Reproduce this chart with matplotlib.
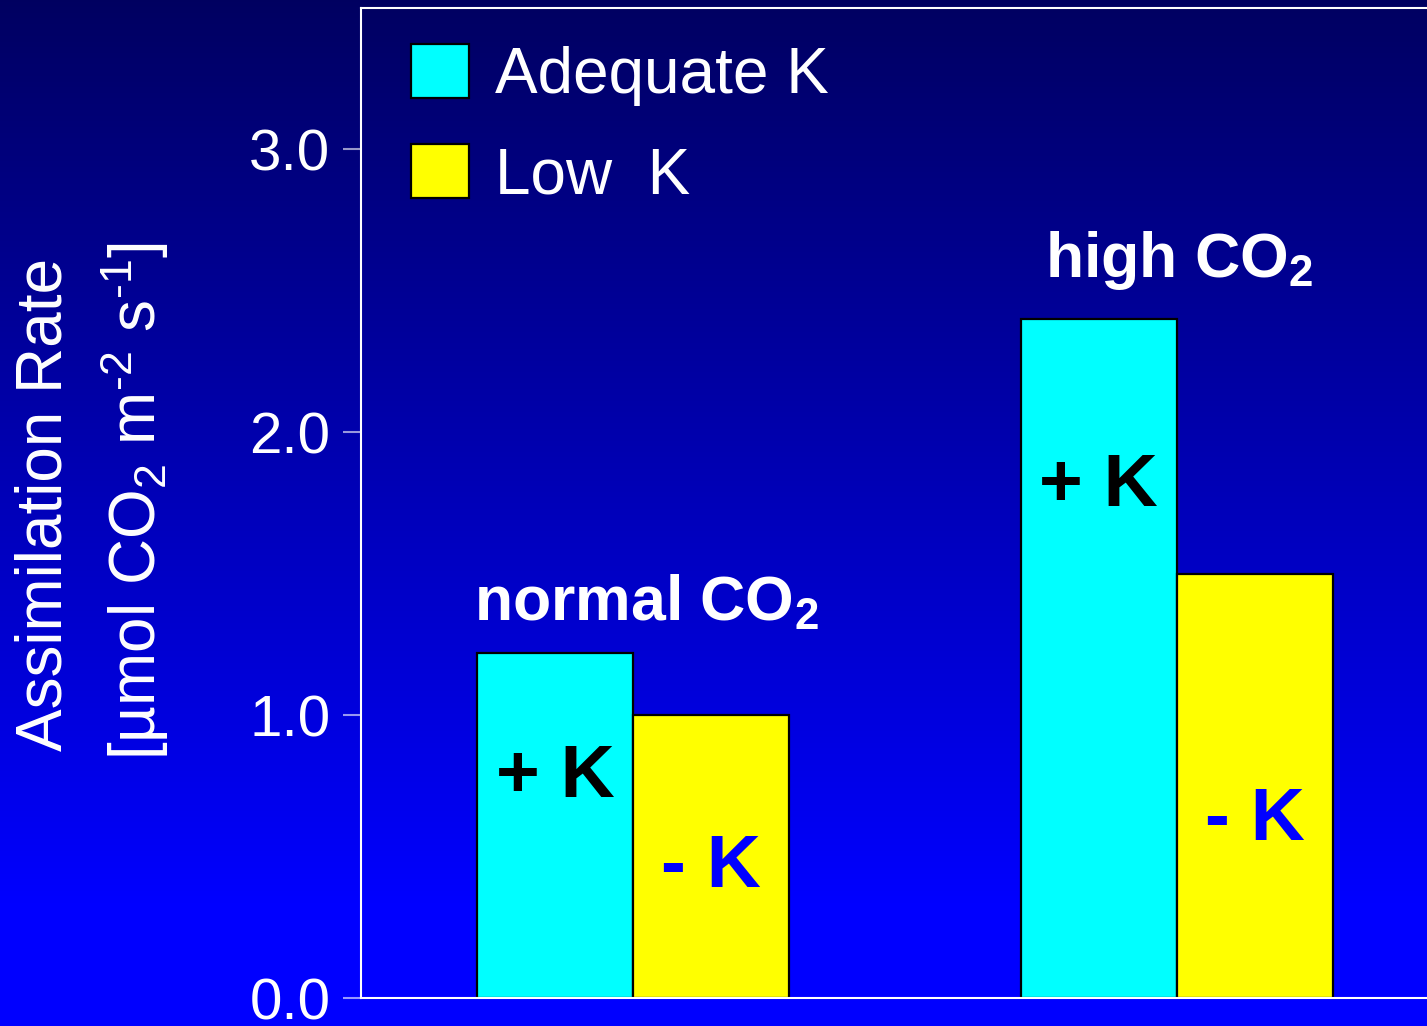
import numpy as np
import matplotlib
matplotlib.use('Agg')
from matplotlib import pyplot as plt
from matplotlib.patches import Patch

plt.rcParams['font.family'] = ['Liberation Sans', 'DejaVu Sans']
plt.rcParams['mathtext.fontset'] = 'custom'
plt.rcParams['mathtext.rm'] = 'Liberation Sans'
plt.rcParams['mathtext.it'] = 'Liberation Sans:italic'
plt.rcParams['mathtext.bf'] = 'Liberation Sans:bold'

# data
groups = ['normal CO$_\\mathbf{2}$', 'high CO$_\\mathbf{2}$']
adequate_k = [1.22, 2.40]
low_k = [1.00, 1.50]
series_names = ['Adequate K', 'Low  K']
yticks = [0.0, 1.0, 2.0, 3.0]
ytick_labels = ['0.0', '1.0', '2.0', '3.0']

# label heights inside / above the bars
group_label_y = [1.336, 2.548]
group_label_dx = [-0.292, -0.243]
plus_label_y = [0.71, 1.738]
minus_label_y = [0.392, 0.558]

fig = plt.figure(figsize=(14.27, 10.26), dpi=100)

# blue gradient background
bg = fig.add_axes([0, 0, 1, 1], zorder=-10)
t = np.linspace(0, 1, 512)
blue = np.clip(0.38 + 0.62 * t / 0.88, 0, 1)
grad = np.zeros((512, 1, 3))
grad[:, 0, 2] = blue
bg.imshow(grad, aspect='auto', extent=[0, 1, 0, 1])
bg.axis('off')

ax = fig.add_axes([361 / 1427, 28 / 1026, 1 - 361 / 1427, 990 / 1026])
ax.set_facecolor('none')

x = np.arange(len(groups))
w = 0.287
ax.bar(x - w / 2, adequate_k, w, color='#00FFFF', edgecolor='black', linewidth=1.6, label=series_names[0])
ax.bar(x + w / 2, low_k, w, color='#FFFF00', edgecolor='black', linewidth=1.6, label=series_names[1])

for i in range(len(groups)):
    ax.text(x[i] + group_label_dx[i], group_label_y[i], groups[i], color='white',
            fontsize=45, fontweight='bold', ha='left', va='baseline')
    ax.text(x[i] - w / 2, plus_label_y[i], '+ K', color='black',
            fontsize=54, fontweight='bold', ha='center', va='baseline')
    ax.text(x[i] + w / 2, minus_label_y[i], '- K', color='#0000FF',
            fontsize=54, fontweight='bold', ha='center', va='baseline')

ax.set_xlim(-0.5, 1.46)
ax.set_ylim(0, 3.5)
ax.set_xticks([])
ax.set_yticks(yticks)
ax.set_yticklabels(ytick_labels)
ax.tick_params(axis='y', direction='out', length=13, width=1.5, color=(1, 1, 1, 0.6),
               labelcolor='white', labelsize=42, pad=9)

for side in ['left', 'top', 'bottom']:
    ax.spines[side].set_color('white')
    ax.spines[side].set_linewidth(1.5)
ax.spines['right'].set_visible(False)

handles = [Patch(facecolor='#00FFFF', edgecolor='black', linewidth=1.6),
           Patch(facecolor='#FFFF00', edgecolor='black', linewidth=1.6)]
leg = ax.legend(handles, series_names, loc='upper left',
                bbox_to_anchor=((411 - 361) / 1066, 1 - (44 - 8) / 990),
                frameon=False, fontsize=46, handlelength=0.9, handleheight=0.92,
                handletextpad=0.42, labelspacing=0.6, borderpad=0, borderaxespad=0)
for txt in leg.get_texts():
    txt.set_color('white')

fig.text(45 / 1427, 0.508, 'Assimilation Rate', rotation=90, color='white',
         fontsize=46, ha='center', va='center')
fig.text(135 / 1427, 0.512, '[µmol CO$_2$ m$^{\\text{-}2}$ s$^{\\text{-}1}$]', rotation=90,
         color='white', fontsize=46, ha='center', va='center')

fig.savefig('out.png', dpi=100)
